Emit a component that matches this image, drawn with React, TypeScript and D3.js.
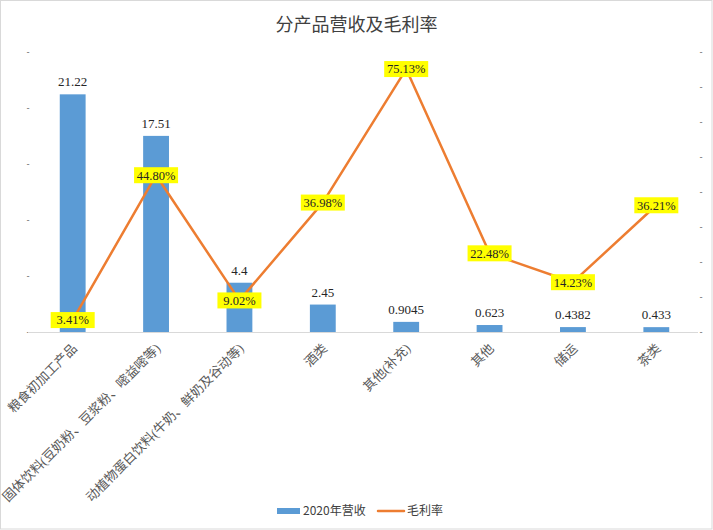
import { useEffect, useRef } from 'react';
import * as d3 from 'd3';

const categories = [
    '粮食初加工产品',
    '固体饮料(豆奶粉、豆浆粉、嘧益嘧等)',
    '动植物蛋白饮料(牛奶、鲜奶及谷动等)',
    '酒类',
    '其他(补充)',
    '其他',
    '储运',
    '茶类',
];
const revenue = [21.22, 17.51, 4.4, 2.45, 0.9045, 0.623, 0.4382, 0.433];
const revenueLabels = ['21.22', '17.51', '4.4', '2.45', '0.9045', '0.623', '0.4382', '0.433'];
const margin = [0.0341, 0.448, 0.0902, 0.3698, 0.7513, 0.2248, 0.1423, 0.3621];
const leftTicks = [0, 5, 10, 15, 20, 25];
const rightTicks = [0, 0.1, 0.2, 0.3, 0.4, 0.5, 0.6, 0.7, 0.8];

const W = 713;
const H = 530;
const BLUE = '#5B9BD5';
const ORANGE = '#ED7D31';
const SERIF = '"Liberation Serif", "Times New Roman", "Noto Sans CJK SC", serif';
const SANS = '"Noto Sans CJK SC", "Noto Sans", sans-serif';

export default function App() {
    const svgRef = useRef<SVGSVGElement>(null);

    useEffect(() => {
        if (!svgRef.current) return;
        const svg = d3.select(svgRef.current);
        svg.selectAll('*').remove();

        const plot = { left: 31, right: 698, top: 52, bottom: 332 };

        const x = d3.scaleBand<string>()
            .domain(categories)
            .range([plot.left, plot.right])
            .paddingInner(0.69)
            .paddingOuter(0.345);
        const yL = d3.scaleLinear().domain([0, 25]).range([plot.bottom, plot.top]);
        const yR = d3.scaleLinear().domain([0, 0.8]).range([plot.bottom, plot.top]);
        const cx = (c: string) => (x(c) ?? 0) + x.bandwidth() / 2;

        // background + border
        svg.append('rect')
            .attr('x', 0.5).attr('y', 0.5)
            .attr('width', W - 1.5).attr('height', H - 1.5)
            .attr('fill', '#fff')
            .attr('stroke', '#d9d9d9');

        svg.append('text')
            .attr('x', W / 2).attr('y', 31)
            .attr('text-anchor', 'middle')
            .attr('font-family', SANS)
            .attr('font-size', 18)
            .attr('fill', '#404040')
            .text('分产品营收及毛利率');

        // axis tick labels ("-")
        svg.append('g').selectAll('text')
            .data(leftTicks)
            .join('text')
            .attr('x', 28).attr('y', d => yL(d))
            .attr('dy', '0.35em')
            .attr('text-anchor', 'middle')
            .attr('font-family', SANS)
            .attr('font-size', 9)
            .attr('fill', '#595959')
            .text('-');
        svg.append('g').selectAll('text')
            .data(rightTicks)
            .join('text')
            .attr('x', 701).attr('y', d => yR(d))
            .attr('dy', '0.35em')
            .attr('text-anchor', 'middle')
            .attr('font-family', SANS)
            .attr('font-size', 9)
            .attr('fill', '#595959')
            .text('-');

        // baseline
        svg.append('line')
            .attr('x1', plot.left - 3).attr('x2', plot.right)
            .attr('y1', plot.bottom + 0.5).attr('y2', plot.bottom + 0.5)
            .attr('stroke', '#d9d9d9');

        // bars
        svg.append('g').selectAll('rect')
            .data(categories)
            .join('rect')
            .attr('x', d => x(d) ?? 0)
            .attr('width', x.bandwidth())
            .attr('y', (d, i) => yL(revenue[i]))
            .attr('height', (d, i) => plot.bottom - yL(revenue[i]))
            .attr('fill', BLUE);

        svg.append('g').selectAll('text')
            .data(categories)
            .join('text')
            .attr('x', d => cx(d))
            .attr('y', (d, i) => yL(revenue[i]) - 8)
            .attr('text-anchor', 'middle')
            .attr('font-family', SERIF)
            .attr('font-size', 13)
            .attr('fill', '#262626')
            .text((d, i) => revenueLabels[i]);

        // category labels
        svg.append('g').selectAll('text')
            .data(categories)
            .join('text')
            .attr('transform', d => `translate(${cx(d) + 2},${plot.bottom + 14}) rotate(-45)`)
            .attr('text-anchor', 'end')
            .attr('dy', '0.35em')
            .attr('font-family', SERIF)
            .attr('font-size', 13)
            .attr('fill', '#595959')
            .text(d => d);

        // margin line
        const line = d3.line<number>()
            .x((d, i) => cx(categories[i]))
            .y(d => yR(d));
        svg.append('path')
            .datum(margin)
            .attr('d', line)
            .attr('fill', 'none')
            .attr('stroke', ORANGE)
            .attr('stroke-width', 2.5)
            .attr('stroke-linejoin', 'round');

        const labels = svg.append('g').selectAll('g')
            .data(margin)
            .join('g')
            .attr('transform', (d, i) => `translate(${cx(categories[i])},${yR(d)})`);
        labels.append('rect')
            .attr('x', -22).attr('y', -8)
            .attr('width', 44).attr('height', 16)
            .attr('fill', '#FFFF00');
        labels.append('text')
            .attr('text-anchor', 'middle')
            .attr('dy', '0.35em')
            .attr('font-family', SERIF)
            .attr('font-size', 12.5)
            .attr('fill', '#262626')
            .text(d => d3.format('.2%')(d));

        // legend
        const lg = svg.append('g').attr('transform', 'translate(0,511)');
        lg.append('rect')
            .attr('x', 277).attr('y', -3)
            .attr('width', 23).attr('height', 6)
            .attr('fill', BLUE);
        lg.append('text')
            .attr('x', 303).attr('dy', '0.35em')
            .attr('font-family', SANS)
            .attr('font-size', 12)
            .attr('fill', '#404040')
            .text('2020年营收');
        lg.append('line')
            .attr('x1', 378).attr('x2', 404)
            .attr('stroke', ORANGE)
            .attr('stroke-width', 2.5)
            .attr('stroke-linecap', 'round');
        lg.append('text')
            .attr('x', 407).attr('dy', '0.35em')
            .attr('font-family', SANS)
            .attr('font-size', 12)
            .attr('fill', '#404040')
            .text('毛利率');
    }, []);

    return (
        <svg
            ref={svgRef}
            width={W}
            height={H}
            style={{ position: 'absolute', left: 0, top: 0, display: 'block' }}
        />
    );
}
